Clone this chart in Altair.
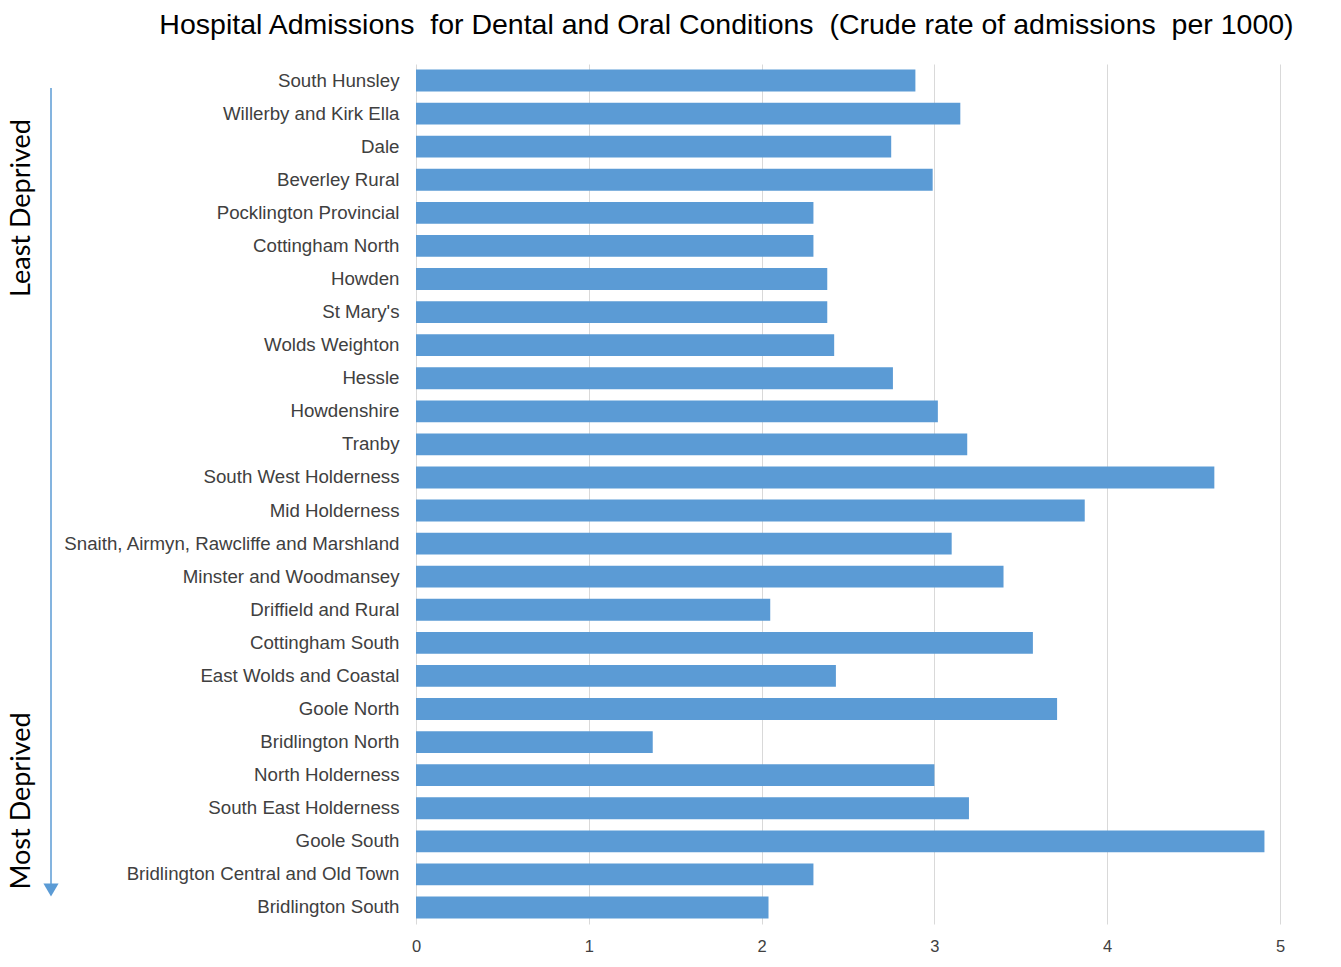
import altair as alt
import pandas as pd

wards = [
    "South Hunsley", "Willerby and Kirk Ella", "Dale", "Beverley Rural",
    "Pocklington Provincial", "Cottingham North", "Howden", "St Mary's",
    "Wolds Weighton", "Hessle", "Howdenshire", "Tranby",
    "South West Holderness", "Mid Holderness",
    "Snaith, Airmyn, Rawcliffe and Marshland", "Minster and Woodmansey",
    "Driffield and Rural", "Cottingham South", "East Wolds and Coastal",
    "Goole North", "Bridlington North", "North Holderness",
    "South East Holderness", "Goole South",
    "Bridlington Central and Old Town", "Bridlington South",
]
rates = [
    2.89, 3.15, 2.75, 2.99, 2.30, 2.30, 2.38, 2.38, 2.42, 2.76, 3.02, 3.19,
    4.62, 3.87, 3.10, 3.40, 2.05, 3.57, 2.43, 3.71, 1.37, 3.00, 3.20, 4.91,
    2.30, 2.04,
]
x_ticks = [0, 1, 2, 3, 4, 5]
side_labels = ["Least Deprived", "Most Deprived"]
title_text = ("Hospital Admissions\u00a0 for Dental and Oral Conditions\u00a0 "
              "(Crude rate of admissions\u00a0 per 1000)")

df = pd.DataFrame({"ward": wards, "rate": rates})

W, H = 864, 860
LEFT, TOP = 416, 64

bars = alt.Chart(df).mark_bar(color="#5B9BD5").encode(
    x=alt.X("rate:Q", scale=alt.Scale(domain=[0, 5], nice=False),
            axis=alt.Axis(values=x_ticks, title=None, grid=True, gridColor="#D9D9D9",
                          domain=False, ticks=False, labelFontSize=16.5, labelFlush=False,
                          labelColor="#404040", labelPadding=14, labelFont="Liberation Sans")),
    y=alt.Y("ward:N", sort=wards,
            scale=alt.Scale(paddingInner=0.34, paddingOuter=0.17),
            axis=alt.Axis(title=None, domain=False, ticks=False, labelFontSize=18.7,
                          labelColor="#404040", labelPadding=17, labelFont="Liberation Sans",
                          labelLimit=400)),
)

least = alt.Chart(pd.DataFrame({"t": [side_labels[0]]})).mark_text(
    angle=270, fontSize=27, font="Lato", color="#000000", align="center", baseline="middle"
).encode(text="t:N", x=alt.value(22 - LEFT), y=alt.value(208 - TOP))

most = alt.Chart(pd.DataFrame({"t": [side_labels[1]]})).mark_text(
    angle=270, fontSize=27, font="Lato", color="#000000", align="center", baseline="middle"
).encode(text="t:N", x=alt.value(22 - LEFT), y=alt.value(801 - TOP))

arrow_line = alt.Chart(pd.DataFrame({"a": [0]})).mark_rule(color="#5B9BD5", strokeWidth=1.5).encode(
    x=alt.value(51 - LEFT), y=alt.value(88 - TOP), y2=alt.value(886 - TOP)
)
arrow_head = alt.Chart(pd.DataFrame({"a": [0]})).mark_point(
    shape="triangle-down", filled=True, color="#5B9BD5", size=230, opacity=1
).encode(x=alt.value(51 - LEFT), y=alt.value(890 - TOP))

chart = alt.layer(bars, least, most, arrow_line, arrow_head).properties(
    width=W, height=H,
    padding={"left": LEFT, "top": TOP, "right": 1341 - LEFT - W, "bottom": 967 - TOP - H},
    autosize=alt.AutoSizeParams(type="none"),
    title=alt.TitleParams(
        title_text,
        anchor="end", dx=9, offset=25, fontSize=28.5, fontWeight="normal",
        font="Liberation Sans", color="#000000",
    ),
).configure_view(stroke=None)

chart.save("out.html", embed_options={"renderer": "svg", "actions": False})
